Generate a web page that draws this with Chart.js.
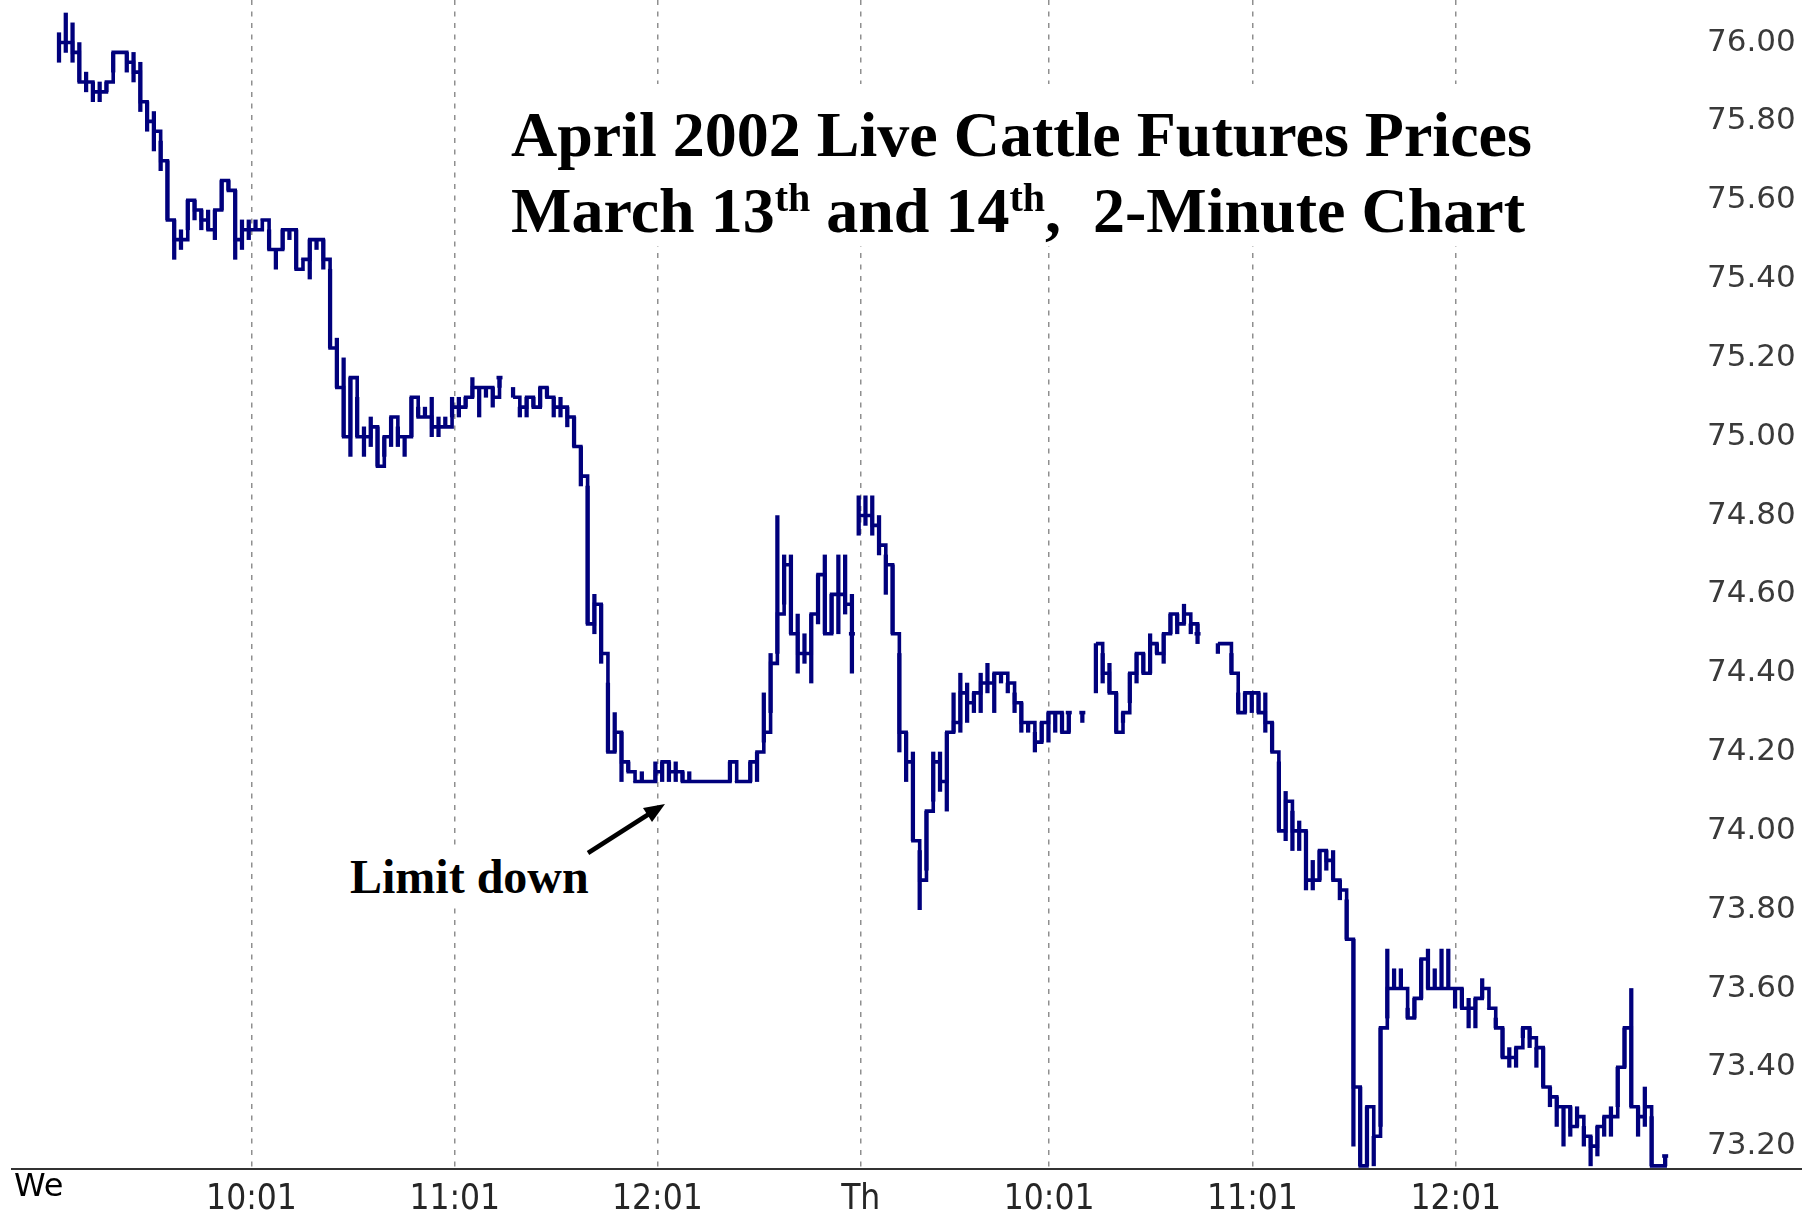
<!DOCTYPE html>
<html>
<head>
<meta charset="utf-8">
<script src="https://cdn.jsdelivr.net/npm/chart.js@4.4.1/dist/chart.umd.min.js"></script>
<style>
html,body{margin:0;padding:0;background:#fff;}
#wrap{position:relative;width:1802px;height:1215px;overflow:hidden;background:#fff;}
#c{position:absolute;left:0;top:0;}
#titleBox{position:absolute;left:500px;top:84px;width:1045px;height:162px;background:#fff;}
#title{position:absolute;left:511px;top:97px;font-family:'Liberation Serif','Times New Roman',serif;font-weight:bold;font-size:64px;line-height:76px;white-space:nowrap;color:#000;}
#title sup{font-size:40px;position:relative;top:-21px;vertical-align:baseline;line-height:0;}
#limit{position:absolute;left:343px;top:849px;padding:0 7px;background:#fff;font-family:'Liberation Serif','Times New Roman',serif;font-weight:bold;font-size:48px;line-height:56px;white-space:nowrap;color:#000;}
#arrow{position:absolute;left:0;top:0;}
</style>
</head>
<body>
<div id="wrap">
  <canvas id="c" width="1802" height="1215"></canvas>
  <div id="titleBox"></div>
  <div id="title">April 2002 Live Cattle Futures Prices<br>March 13<sup>th</sup> and 14<sup>th</sup>,&nbsp; 2-Minute Chart</div>
  <div id="limit">Limit down</div>
  <svg id="arrow" width="1802" height="1215">
    <line x1="588" y1="853" x2="649" y2="814" stroke="#000" stroke-width="4.5"/>
    <polygon points="665,804 652,822 643,808" fill="#000"/>
  </svg>
</div>
<script>
// ---- data: 2-minute bars, index 0 = Wed 9:05, index 118 = Thu 9:05 ----
const hi = [
76.025,76.075,76.05,76.00,75.925,75.90,75.90,75.90,75.975,75.975,
75.975,75.975,75.95,75.85,75.825,75.75,75.70,75.55,75.525,75.60,
75.60,75.575,75.575,75.575,75.65,75.65,75.625,75.55,75.55,75.55,
75.55,75.525,75.475,75.525,75.525,75.525,75.45,75.50,75.50,75.50,
75.425,75.25,75.20,75.15,75.10,75.025,75.05,75.025,75.00,75.05,
75.025,75.00,75.10,75.075,75.075,75.10,75.05,75.05,75.10,75.10,
75.10,75.15,75.125,75.125,75.125,75.15,null,75.125,75.075,75.10,
75.10,75.125,75.125,75.10,75.10,75.075,75.05,74.975,74.875,74.60,
74.575,74.375,74.30,74.25,74.175,74.125,74.15,74.125,74.175,74.175,
74.175,74.175,74.15,74.15,74.125,74.125,74.125,74.125,74.125,74.175,
74.125,74.125,74.175,74.20,74.35,74.45,74.80,74.70,74.70,74.55,
74.50,74.55,74.65,74.70,74.60,74.70,74.70,74.60,74.85,74.85,
74.85,74.80,74.70,74.675,74.45,74.25,74.20,73.95,74.05,74.20,
74.20,74.25,74.35,74.40,74.375,74.35,74.40,74.425,74.40,74.40,
74.375,74.35,74.325,74.275,74.25,74.275,74.30,74.30,74.30,74.30,
null,74.30,null,74.475,74.45,74.425,74.35,74.30,74.40,74.45,
74.45,74.50,74.475,74.50,74.55,74.55,74.575,74.525,74.525,null,
null,74.475,74.475,74.45,74.35,74.35,74.35,74.35,74.35,74.275,
74.175,74.10,74.05,74.025,74.00,73.925,73.95,73.95,73.95,73.875,
73.825,73.725,73.35,73.30,73.225,73.50,73.70,73.65,73.65,73.55,
73.575,73.675,73.70,73.65,73.70,73.70,73.60,73.60,73.575,73.575,
73.625,73.55,73.525,73.50,73.45,73.45,73.50,73.50,73.45,73.45,
73.35,73.325,73.30,73.30,73.30,73.25,73.225,73.25,73.275,73.30,
73.40,73.50,73.60,73.30,73.35,73.275,73.15,73.175
];
const lo = [
75.95,75.975,75.95,75.90,75.875,75.85,75.85,75.875,75.925,75.975,
75.925,75.90,75.825,75.775,75.725,75.675,75.55,75.45,75.475,75.525,
75.55,75.525,75.525,75.50,75.575,75.625,75.45,75.475,75.50,75.525,
75.55,75.475,75.425,75.475,75.50,75.425,75.45,75.40,75.475,75.425,
75.225,75.125,75.00,74.95,75.00,74.95,74.975,74.925,74.95,74.975,
74.975,74.95,75.00,75.05,75.05,75.00,75.00,75.025,75.05,75.05,
75.075,75.10,75.05,75.10,75.075,75.125,null,75.10,75.05,75.05,
75.075,75.075,75.10,75.05,75.05,75.025,74.975,74.875,74.525,74.50,
74.425,74.20,74.20,74.125,74.15,74.125,74.125,74.125,74.125,74.125,
74.125,74.125,74.125,74.125,74.125,74.125,74.125,74.125,74.125,74.125,
74.125,74.125,74.125,74.125,74.225,74.30,74.45,74.575,74.50,74.40,
74.425,74.375,74.525,74.50,74.50,74.50,74.55,74.40,74.75,74.775,
74.75,74.70,74.60,74.50,74.20,74.125,73.975,73.80,73.90,74.075,
74.10,74.05,74.25,74.25,74.275,74.30,74.30,74.35,74.30,74.375,
74.35,74.30,74.25,74.25,74.20,74.225,74.225,74.25,74.25,74.25,
null,74.275,null,74.35,74.375,74.35,74.25,74.275,74.325,74.375,
74.40,74.40,74.45,74.425,74.50,74.50,74.525,74.50,74.475,null,
null,74.45,74.475,74.40,74.30,74.30,74.30,74.30,74.25,74.20,
74.00,73.975,73.95,73.95,73.85,73.85,73.875,73.90,73.875,73.825,
73.725,73.20,73.15,73.15,73.15,73.25,73.525,73.60,73.60,73.525,
73.525,73.575,73.60,73.60,73.60,73.60,73.55,73.55,73.50,73.50,
73.575,73.55,73.50,73.425,73.40,73.40,73.475,73.45,73.40,73.35,
73.30,73.25,73.20,73.225,73.25,73.20,73.15,73.175,73.225,73.225,
73.30,73.40,73.30,73.225,73.25,73.15,73.15,73.15
];
const cl = [
76.00,76.00,75.975,75.90,75.90,75.875,75.875,75.90,75.975,75.975,
75.95,75.925,75.85,75.80,75.775,75.70,75.55,75.50,75.50,75.60,
75.575,75.55,75.525,75.575,75.65,75.625,75.50,75.525,75.525,75.525,
75.55,75.475,75.475,75.525,75.525,75.425,75.45,75.50,75.50,75.45,
75.225,75.125,75.00,75.15,75.00,75.00,75.025,74.925,75.00,75.05,
75.00,75.00,75.10,75.05,75.05,75.025,75.025,75.025,75.075,75.075,
75.10,75.125,75.125,75.125,75.10,75.15,null,75.10,75.075,75.10,
75.075,75.125,75.10,75.075,75.075,75.05,74.975,74.90,74.525,74.575,
74.45,74.20,74.25,74.175,74.15,74.125,74.125,74.125,74.15,74.175,
74.15,74.15,74.125,74.125,74.125,74.125,74.125,74.125,74.125,74.175,
74.125,74.125,74.175,74.20,74.25,74.425,74.55,74.675,74.50,74.45,
74.45,74.55,74.65,74.50,74.60,74.60,74.575,74.50,74.80,74.80,
74.775,74.725,74.675,74.50,74.25,74.175,73.975,73.875,74.05,74.175,
74.125,74.25,74.275,74.35,74.325,74.35,74.375,74.375,74.40,74.40,
74.375,74.325,74.275,74.275,74.225,74.275,74.30,74.30,74.25,74.30,
null,74.30,null,74.475,74.40,74.35,74.25,74.30,74.40,74.45,
74.40,74.475,74.45,74.50,74.55,74.525,74.55,74.525,74.50,null,
null,74.475,74.475,74.40,74.30,74.35,74.35,74.30,74.275,74.20,
74.00,74.075,74.00,74.00,73.875,73.875,73.95,73.925,73.875,73.85,
73.725,73.35,73.15,73.30,73.225,73.50,73.60,73.60,73.60,73.525,
73.575,73.675,73.60,73.60,73.60,73.60,73.60,73.55,73.55,73.575,
73.60,73.55,73.50,73.425,73.425,73.45,73.50,73.475,73.45,73.35,
73.325,73.30,73.30,73.25,73.275,73.225,73.20,73.25,73.275,73.275,
73.40,73.50,73.30,73.275,73.30,73.15,73.15,73.175
];
const thuStart = 118;

const yTickVals   = [73.2, 73.4, 73.6, 73.8, 74.0, 74.2, 74.4, 74.6, 74.8, 75.0, 75.2, 75.4, 75.6, 75.8, 76.0];
const yTickLabels = ['73.20','73.40','73.60','73.80','74.00','74.20','74.40','74.60','74.80','75.00','75.20','75.40','75.60','75.80','76.00'];
const xTickPos    = [-3.0, 28.4, 58.4, 88.3, 118.3, 146.1, 176.1, 206.1];
const xTickLabels = ['We', '10:01', '11:01', '12:01', 'Th', '10:01', '11:01', '12:01'];

// ---- build datasets ----
const NAVY = '#00007c';
const barData = hi.map((h, k) => ({x: k, y: [lo[k], h]})).filter(d => d.y[1] !== null);
const lineData = [];
cl.forEach((c, k) => {
  if (k === thuStart) lineData.push({x: k - 0.5, y: null});
  lineData.push({x: k, y: c});
});

const axisLine = {
  id: 'axisLine',
  afterDatasetsDraw(chart) {
    const {ctx, chartArea} = chart;
    ctx.save();
    ctx.strokeStyle = '#333';
    ctx.lineWidth = 2;
    ctx.beginPath();
    ctx.moveTo(11, chartArea.bottom);
    ctx.lineTo(chart.width, chartArea.bottom);
    ctx.stroke();
    ctx.restore();
  }
};

new Chart(document.getElementById('c'), {
  type: 'bar',
  data: {
    datasets: [
      {
        type: 'bar',
        data: barData,
        backgroundColor: NAVY,
        borderWidth: 0,
        barThickness: 3.6,
        grouped: false
      },
      {
        type: 'line',
        data: lineData,
        borderColor: NAVY,
        borderWidth: 3.6,
        stepped: true,
        spanGaps: false,
        fill: false,
        borderCapStyle: 'butt',
        borderJoinStyle: 'miter',
        pointStyle: 'line',
        pointBorderColor: NAVY,
        pointBackgroundColor: NAVY,
        pointBorderWidth: 3.6,
        pointHoverRadius: 0,
        pointRadius: c => {
          const p = lineData[c.dataIndex];
          const n = lineData[c.dataIndex + 1];
          return (p && p.y !== null && (!n || n.y === null)) ? 3 : 0;
        }
      }
    ]
  },
  options: {
    responsive: false,
    animation: false,
    devicePixelRatio: 1,
    events: [],
    layout: {padding: 0, autoPadding: false},
    plugins: {legend: {display: false}, tooltip: {enabled: false}},
    scales: {
      x: {
        type: 'linear',
        position: 'bottom',
        min: -8.706,
        max: 242.14,
        offset: false,
        afterBuildTicks: s => { s.ticks = xTickPos.map(v => ({value: v})); },
        afterFit: s => { s.height = 46; s.paddingLeft = 0; s.paddingRight = 0; },
        grid: {
          offset: false,
          drawTicks: false,
          lineWidth: 1.5,
          color: c => c.index === 0 ? 'rgba(0,0,0,0)' : '#8f8f8f'
        },
        border: {display: false, dash: [5, 6.5]},
        ticks: {
          autoSkip: false,
          maxRotation: 0,
          minRotation: 0,
          padding: 6,
          callback: (v, i) => xTickLabels[i],
          font: c => c.index === 0
            ? {family: "'DejaVu Sans', sans-serif", size: 32, lineHeight: 0.8}
            : {family: "'DejaVu Sans Condensed', sans-serif", size: 35, lineHeight: 1.4},
          color: c => c.index === 0 ? '#000' : '#262626'
        }
      },
      y: {
        type: 'linear',
        position: 'right',
        min: 73.142,
        max: 76.108,
        afterBuildTicks: s => { s.ticks = yTickVals.map(v => ({value: v})); },
        afterFit: s => { s.width = 102; s.paddingTop = 0; s.paddingBottom = 0; },
        grid: {display: false, drawTicks: false},
        border: {display: false},
        ticks: {
          padding: 7,
          crossAlign: 'near',
          callback: (v, i) => yTickLabels[i],
          font: {family: "'DejaVu Sans', sans-serif", size: 31},
          color: '#3a3a3a'
        }
      }
    }
  },
  plugins: [axisLine]
});
</script>
</body>
</html>
